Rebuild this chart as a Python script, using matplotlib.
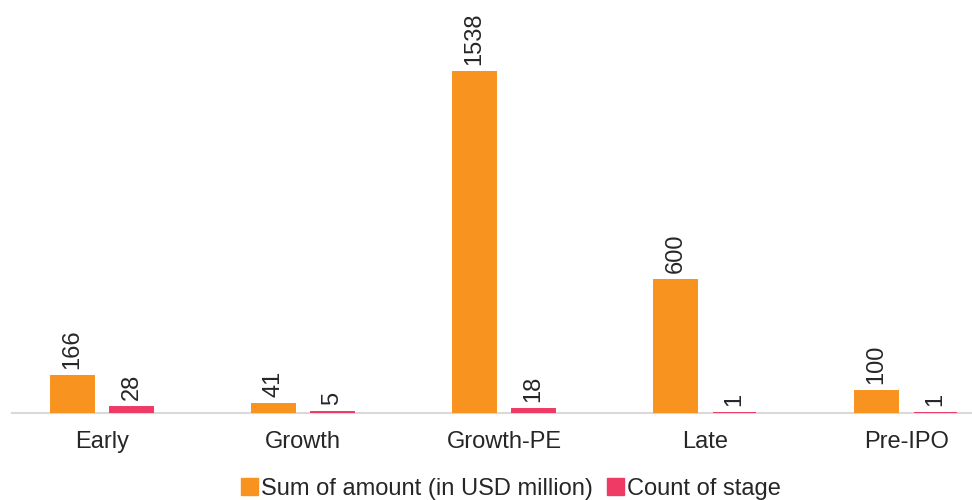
import matplotlib.pyplot as plt
from matplotlib.patches import Patch
import numpy as np

plt.rcParams['font.family'] = ['Liberation Sans', 'DejaVu Sans']

stages = ['Early', 'Growth', 'Growth-PE', 'Late', 'Pre-IPO']
amount = [166, 41, 1538, 600, 100]
count = [28, 5, 18, 1, 1]

orange = '#F7931E'
pink = '#EE3A64'

fig = plt.figure(figsize=(9.72, 5), dpi=100)
ax = fig.add_axes([12/972, 87/500, 960/972, 413/500])

x = np.arange(len(stages))
w = 0.216
off = 0.147
# thin edge so that tiny bars still show over the baseline
b1 = ax.bar(x - off, amount, w, color=orange, edgecolor=orange, linewidth=1.4, zorder=3)
b2 = ax.bar(x + off, count, w, color=pink, edgecolor=pink, linewidth=1.4, zorder=3)

for bars, vals in ((b1, amount), (b2, count)):
    for r, v in zip(bars, vals):
        ax.annotate(str(v), (r.get_x() + r.get_width()/2, r.get_height()),
                    xytext=(0, 5), textcoords='offset points',
                    rotation=90, ha='center', va='bottom',
                    fontsize=17, color='#262626')

ax.set_xlim(-0.448, 4.328)
ax.set_ylim(0, 1863)
ax.set_xticks(x)
ax.set_xticklabels(stages, fontsize=17, color='#262626')
ax.tick_params(axis='x', length=0, pad=13)
ax.set_yticks([])
for s in ['top', 'right', 'left']:
    ax.spines[s].set_visible(False)
ax.spines['bottom'].set_color('#D9D9D9')
ax.spines['bottom'].set_linewidth(1.5)

handles = [Patch(color=orange, label='Sum of amount (in USD million)'),
           Patch(color=pink, label='Count of stage')]
fig.legend(handles=handles, loc='center', bbox_to_anchor=(511/972, 11/500),
           ncol=2, frameon=False, fontsize=17, handlelength=0.7,
           handleheight=0.7, handletextpad=0.15, columnspacing=0.6,
           borderpad=0, labelcolor='#262626')

fig.savefig('out.png', dpi=100)
